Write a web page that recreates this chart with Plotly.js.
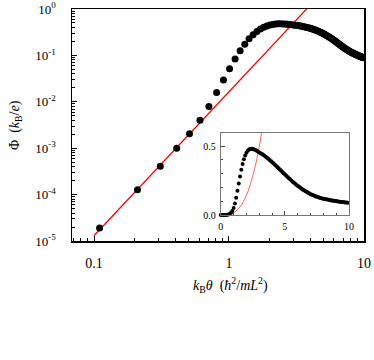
<!DOCTYPE html>
<html>
<head>
<meta charset="utf-8">
<script src="https://cdn.plot.ly/plotly-3.0.1.min.js"></script>
<style>
  html, body { margin: 0; padding: 0; background: #fff; }
  #chart { width: 374px; height: 360px; }
</style>
</head>
<body>
<div id="chart"></div>
<script>
// black dots: kB*theta vs Phi
var theta = [0.01,0.11,0.21,0.31,0.41,0.51,0.61,0.71,0.81,0.91,
             1.01,1.11,1.21,1.31,1.41,1.51,1.61,1.71,1.81,1.91,
             2.01,2.11,2.21,2.31,2.41,2.51,2.61,2.71,2.81,2.91,
             3.01,3.11,3.21,3.31,3.41,3.51,3.61,3.71,3.81,3.91,
             4.01,4.11,4.21,4.31,4.41,4.51,4.61,4.71,4.81,4.91,
             5.01,5.11,5.21,5.31,5.41,5.51,5.61,5.71,5.81,5.91,
             6.01,6.11,6.21,6.31,6.41,6.51,6.61,6.71,6.81,6.91,
             7.01,7.11,7.21,7.31,7.41,7.51,7.61,7.71,7.81,7.91,
             8.01,8.11,8.21,8.31,8.41,8.51,8.61,8.71,8.81,8.91,
             9.01,9.11,9.21,9.31,9.41,9.51,9.61,9.71,9.81,9.91];
var phi = [1.5e-8,1.9e-5,1.27e-4,4.1e-4,1.0e-3,2.05e-3,4.0e-3,7.9e-3,0.0158,0.0294,
           0.0515,0.084,0.126,0.175,0.229,0.280,0.328,0.370,0.405,0.432,
           0.452,0.466,0.475,0.479,0.480,0.478,0.475,0.471,0.466,0.460,
           0.454,0.448,0.442,0.436,0.429,0.422,0.415,0.407,0.399,0.391,
           0.383,0.375,0.366,0.357,0.348,0.339,0.330,0.321,0.312,0.303,
           0.294,0.285,0.276,0.267,0.259,0.250,0.242,0.234,0.226,0.218,
           0.211,0.204,0.197,0.190,0.184,0.178,0.172,0.166,0.161,0.156,
           0.151,0.147,0.143,0.139,0.135,0.132,0.129,0.126,0.123,0.120,
           0.118,0.116,0.114,0.112,0.110,0.108,0.106,0.105,0.103,0.102,
           0.100,0.099,0.097,0.096,0.095,0.094,0.092,0.091,0.090,0.089];

// red power-law line (main, log-log)
var fitX = [0.1, 4.0];
var fitY = [1.3e-5, 1.21];

// red curve in the inset (linear axes)
var fitX2 = [0, 0.5, 1.0, 1.5, 2.0, 2.25, 2.5, 2.75, 3.0, 3.3];
var fitY2 = [0, 0.0019, 0.0164, 0.058, 0.141, 0.203, 0.281, 0.377, 0.494, 0.664];

var yTickVals = [1e-5, 1e-4, 1e-3, 1e-2, 1e-1, 1];
var yTickText = ["10<sup>-5</sup>","10<sup>-4</sup>","10<sup>-3</sup>","10<sup>-2</sup>","10<sup>-1</sup>","10<sup>0</sup>"];
var xTickVals = [0.1, 1, 10];
var xTickText = ["0.1", "1", "10"];

var serif = "Liberation Serif, Times New Roman, serif";

var data = [
  {x: fitX, y: fitY, mode: "lines", line: {color: "#ff0000", width: 1.3},
   xaxis: "x", yaxis: "y", hoverinfo: "skip"},
  {x: theta, y: phi, mode: "markers", marker: {color: "#000", size: 7},
   xaxis: "x", yaxis: "y"},
  {x: fitX2, y: fitY2, mode: "lines", line: {color: "#ff5050", width: 0.9, shape: "spline"},
   xaxis: "x2", yaxis: "y2"},
  {x: theta, y: phi, mode: "markers", marker: {color: "#000", size: 4},
   cliponaxis: false, xaxis: "x2", yaxis: "y2"}
];

var minorLogX = [0.07,0.08,0.09,0.2,0.3,0.4,0.5,0.6,0.7,0.8,0.9,2,3,4,5,6,7,8,9];
var minorLogY = [];
[1e-5,1e-4,1e-3,1e-2,1e-1].forEach(function(d){
  for (var k = 2; k <= 9; k++) minorLogY.push(d * k);
});

var layout = {
  width: 374, height: 360,
  margin: {l: 72, r: 10, t: 9, b: 119},
  showlegend: false,
  paper_bgcolor: "#fff", plot_bgcolor: "#fff",
  font: {family: serif, size: 13, color: "#000"},
  xaxis: {
    type: "log", range: [-1.163, 1.0005],
    tickmode: "array", tickvals: xTickVals, ticktext: xTickText,
    ticks: "inside", ticklen: 5, tickwidth: 1, tickcolor: "#000",
    minor: {tickmode: "array", tickvals: minorLogX, ticks: "inside", ticklen: 3, tickcolor: "#000", showgrid: false},
    showline: true, linecolor: "#000", linewidth: 1.5, mirror: true,
    showgrid: false, zeroline: false, ticklabelstandoff: 9, ticklabeloverflow: "allow",
    tickfont: {size: 14}
  },
  yaxis: {
    type: "log", range: [-5, 0.0005],
    tickmode: "array", tickvals: yTickVals, ticktext: yTickText,
    ticks: "inside", ticklen: 5, tickwidth: 1, tickcolor: "#000",
    minor: {tickmode: "array", tickvals: minorLogY, ticks: "inside", ticklen: 3, tickcolor: "#000", showgrid: false},
    showline: true, linecolor: "#000", linewidth: 1.5, mirror: true,
    showgrid: false, zeroline: false, ticklabelstandoff: 12, ticklabeloverflow: "allow",
    tickfont: {size: 13}
  },
  xaxis2: {
    domain: [0.509, 0.949], anchor: "y2", range: [0, 10],
    tickvals: [0, 5, 10], ticktext: ["0", "5", "10"],
    ticks: "inside", ticklen: 4, tickcolor: "#444",
    minor: {dtick: 1, ticks: "inside", ticklen: 2, tickcolor: "#444", showgrid: false},
    showline: true, linecolor: "#777", linewidth: 1, mirror: true,
    showgrid: false, zeroline: false, tickfont: {size: 10}, ticklabelstandoff: 2
  },
  yaxis2: {
    domain: [0.112, 0.464], anchor: "x2", range: [0, 0.592],
    tickvals: [0, 0.5], ticktext: ["0.0", "0.5"],
    ticks: "inside", ticklen: 4, tickcolor: "#444",
    minor: {dtick: 0.1, ticks: "inside", ticklen: 2, tickcolor: "#444", showgrid: false},
    showline: true, linecolor: "#777", linewidth: 1, mirror: true,
    showgrid: false, zeroline: false, tickfont: {size: 10}, ticklabelstandoff: 2
  },
  annotations: [
    {xref: "paper", yref: "paper", x: 0.544, y: -0.19, xanchor: "center", yanchor: "middle",
     showarrow: false, font: {size: 14},
     text: "<i>k</i><sub>B</sub><i>θ</i>&nbsp;&nbsp;(<i>ħ</i><sup>2</sup>/<i>mL</i><sup>2</sup>)"},
    {xref: "paper", yref: "paper", x: -0.195, y: 0.5, xanchor: "center", yanchor: "middle",
     showarrow: false, textangle: -90, font: {size: 14},
     text: "Φ&nbsp;&nbsp;(<i>k</i><sub>B</sub>/<i>e</i>)"}
  ]
};

Plotly.newPlot("chart", data, layout, {displayModeBar: false, staticPlot: true});
</script>
</body>
</html>
